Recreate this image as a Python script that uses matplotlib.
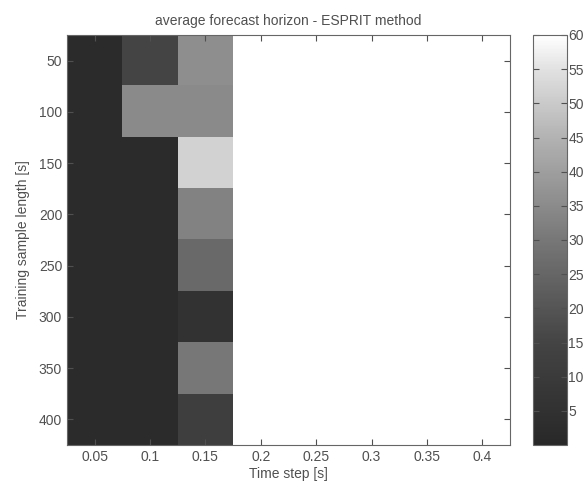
import numpy as np
import matplotlib
matplotlib.use("Agg")
import matplotlib.pyplot as plt
from matplotlib.colors import LinearSegmentedColormap

plt.rcParams['font.family'] = ['Liberation Sans', 'DejaVu Sans']

time_steps = [0.05, 0.1, 0.15, 0.2, 0.25, 0.3, 0.35, 0.4]
sample_lengths = [50, 100, 150, 200, 250, 300, 350, 400]

# average forecast horizon, one list per time step (rows = sample lengths)
h_005 = [2, 2, 2, 2, 2, 2, 2, 2]
h_010 = [15, 35, 2, 2, 2, 2, 2, 2]
h_015 = [36, 35, 52, 33, 26, 6, 30, 12]
h_020 = [60, 60, 60, 60, 60, 60, 60, 60]
h_025 = [60, 60, 60, 60, 60, 60, 60, 60]
h_030 = [60, 60, 60, 60, 60, 60, 60, 60]
h_035 = [60, 60, 60, 60, 60, 60, 60, 60]
h_040 = [60, 60, 60, 60, 60, 60, 60, 60]

grid = np.array([h_005, h_010, h_015, h_020, h_025, h_030, h_035, h_040]).T

# scanned gray map: darker mid tones than a plain linear gray
cmap = LinearSegmentedColormap.from_list("scan_gray", [
    (0.0, "#282828"), (0.25, "#444444"), (0.5, "#777777"),
    (0.75, "#b2b2b2"), (0.92, "#e2e2e2"), (1.0, "#ffffff")])
txt = "#505050"

fig = plt.figure(figsize=(5.85, 4.91), dpi=100)
ax = fig.add_axes([67 / 585, 1 - 445 / 491, (510 - 67) / 585, (445 - 35) / 491])
cax = fig.add_axes([533 / 585, 1 - 445 / 491, (567 - 533) / 585, (445 - 35) / 491])

im = ax.imshow(grid, cmap=cmap, vmin=0, vmax=60, aspect='auto',
               extent=[0.025, 0.425, 425, 25], interpolation='nearest')

ax.set_xticks(time_steps)
ax.set_xticklabels(["0.05", "0.1", "0.15", "0.2", "0.25", "0.3", "0.35", "0.4"])
ax.set_yticks(sample_lengths)
ax.tick_params(direction='in', top=True, right=True, colors=txt, labelsize=10,
               length=4, width=0.8)
for s in ax.spines.values():
    s.set_color("#666666")
    s.set_linewidth(0.8)

ax.set_title("average forecast horizon - ESPRIT method", fontsize=10, color=txt, pad=7)
ax.set_xlabel("Time step [s]", fontsize=10, color=txt, labelpad=2)
ax.set_ylabel("Training sample length [s]", fontsize=10, color=txt, labelpad=6)

cb = fig.colorbar(im, cax=cax, ticks=range(5, 61, 5))
cax.tick_params(direction='in', left=True, right=True, colors=txt, labelsize=10,
                length=4, width=0.8, pad=1)
cb.outline.set_edgecolor("#666666")
cb.outline.set_linewidth(0.8)

fig.savefig("out.png", dpi=100)
